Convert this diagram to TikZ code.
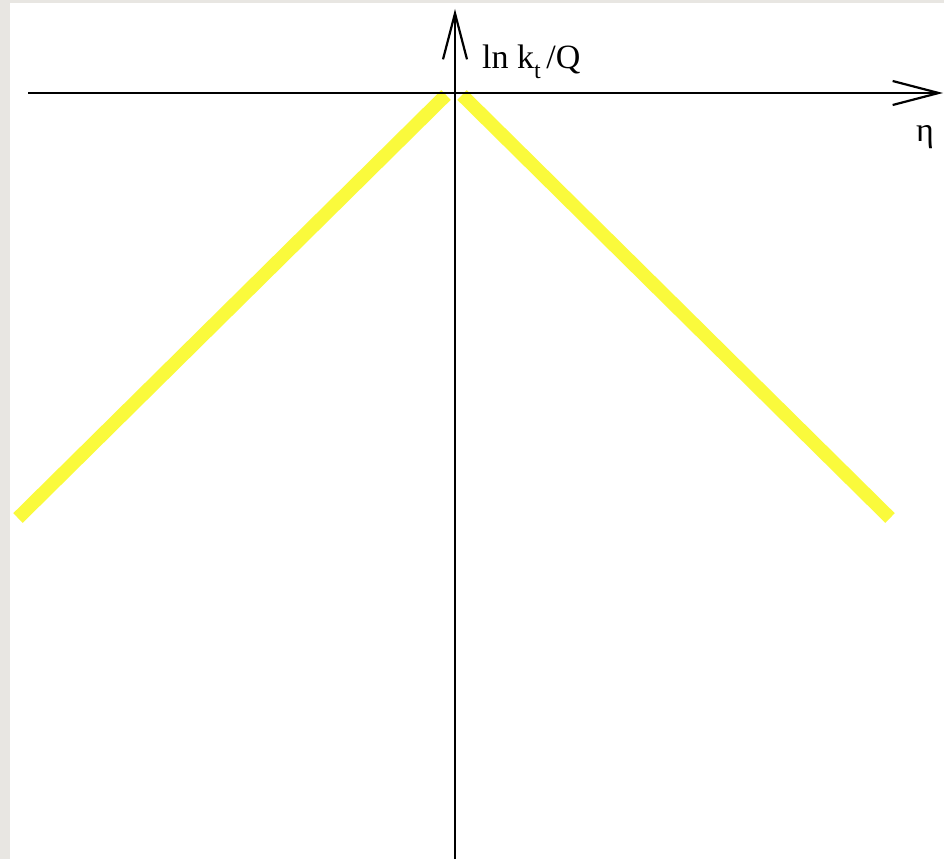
\documentclass[tikz,border=0pt]{standalone}
\usepackage{fontspec}
\setmainfont{Liberation Serif}
\usetikzlibrary{arrows.meta}
\definecolor{bggray}{RGB}{232,230,226}
\definecolor{hump}{RGB}{250,250,60}
\tikzset{
  axis/.style={line width=2.2pt, -{Straight Barb[length=46pt,width=24pt,line width=2.2pt]}},
  band/.style={line width=13.5pt, hump, line cap=butt},
  lbl/.style={inner sep=0pt, font=\fontsize{34}{34}\selectfont}
}
\begin{document}
\begin{tikzpicture}[x=1pt,y=-1pt]
\useasboundingbox (0,0) rectangle (944,859);
\fill[bggray] (0,0) rectangle (944,859);
\fill[white] (10,3) rectangle (944,859);
% yellow lines
\coordinate (lb) at (18,518);
\coordinate (lt) at (446,95);
\coordinate (rt) at (462,95);
\coordinate (rb) at (890,518);
\draw[band] (lb) -- (lt);
\draw[band] (rt) -- (rb);
% axes
\coordinate (xs) at (28,93);
\coordinate (xe) at (943,93);
\coordinate (ys) at (455,859);
\coordinate (ye) at (455,9);
\draw[axis] (xs) -- (xe);
\draw[axis] (ys) -- (ye);
\node[lbl, anchor=base west] (ylab) at (482,68) {ln k\raisebox{-0.3em}{\fontsize{24}{24}\selectfont t}\,/Q};
\node[lbl, anchor=base west] (xlab) at (916,141) {η};
\end{tikzpicture}
\end{document}
